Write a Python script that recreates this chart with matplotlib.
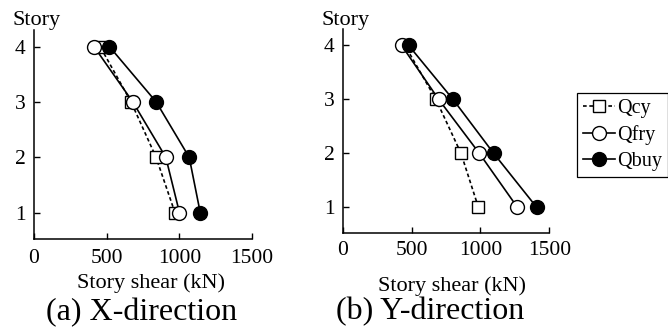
import numpy as np
import matplotlib
matplotlib.use('Agg')
import matplotlib.pyplot as plt

plt.rcParams['font.family'] = ['Liberation Serif', 'DejaVu Serif']

# story levels
stories = [1, 2, 3, 4]

# X-direction story shear (kN)
qcy_x = [970, 840, 668, 455]
qfry_x = [1001, 907, 680, 413]
qbuy_x = [1144, 1068, 841, 519]

# Y-direction story shear (kN)
qcy_y = [985, 859, 677, 452]
qfry_y = [1268, 992, 697, 428]
qbuy_y = [1408, 1096, 801, 479]

xticks = [0, 500, 1000, 1500]
labels = ['Qcy', 'Qfry', 'Qbuy']
captions = ['(a) X-direction', '(b) Y-direction']

W, H = 668, 332
fig = plt.figure(figsize=(W / 100, H / 100), dpi=100)

# axes boxes in pixels: left, right, top, bottom
boxes = [(34, 252, 30, 239), (342.7, 549.3, 29.3, 233.3)]
ylims = [(0.525, 4.30), (0.517, 4.30)]
data = [(qcy_x, qfry_x, qbuy_x), (qcy_y, qfry_y, qbuy_y)]
xlab_pos = [(151, 283), (452, 286)]
cap_pos = [(142, 313), (430, 312)]

lw = 1.2
handles = None
for i in range(2):
    l, r, t, b = boxes[i]
    ax = fig.add_axes([l / W, 1 - b / H, (r - l) / W, (b - t) / H])
    qcy, qfry, qbuy = data[i]
    h1, = ax.plot(qcy, stories, color='black', lw=lw, ls=(0, (2.2, 1.6)),
                  marker='s', ms=8.5, mfc='white', mec='black', mew=1.0, zorder=3)
    h2, = ax.plot(qfry, stories, color='black', lw=lw, ls='-',
                  marker='o', ms=10, mfc='white', mec='black', mew=1.0, zorder=4)
    h3, = ax.plot(qbuy, stories, color='black', lw=lw, ls='-',
                  marker='o', ms=10, mfc='black', mec='black', mew=1.0, zorder=5)
    handles = [h1, h2, h3]
    ax.set_xlim(0, 1500)
    ax.set_ylim(*ylims[i])
    ax.set_xticks(xticks)
    ax.set_yticks(stories)
    for s in ['top', 'right']:
        ax.spines[s].set_visible(False)
    for s in ['left', 'bottom']:
        ax.spines[s].set_linewidth(1.1)
    ax.tick_params(direction='in', length=4.5, width=1.0, labelsize=15.5)
    ax.tick_params(axis='x', pad=7 if i == 0 else 5.5)
    ax.tick_params(axis='y', pad=6)
    ax.patch.set_alpha(0)
    # "Story" label above the vertical axis
    fig.text((l + 3) / W, 1 - 20 / H, 'Story', ha='center', va='center', fontsize=16)
    fig.text(xlab_pos[i][0] / W, 1 - xlab_pos[i][1] / H, 'Story shear (kN)',
             ha='center', va='center', fontsize=16)
    fig.text(cap_pos[i][0] / W, 1 - cap_pos[i][1] / H, captions[i],
             ha='center', va='center', fontsize=23)

leg = fig.legend(handles, labels, loc='upper left', bbox_to_anchor=(577 / W, 1 - 93 / H),
                 fontsize=14.5, handlelength=1.6, handletextpad=0.1, borderpad=0.3,
                 labelspacing=0.35, borderaxespad=0, fancybox=False, framealpha=1)
leg.get_frame().set_edgecolor('black')
leg.get_frame().set_linewidth(0.9)

fig.savefig('out.png', dpi=100)
